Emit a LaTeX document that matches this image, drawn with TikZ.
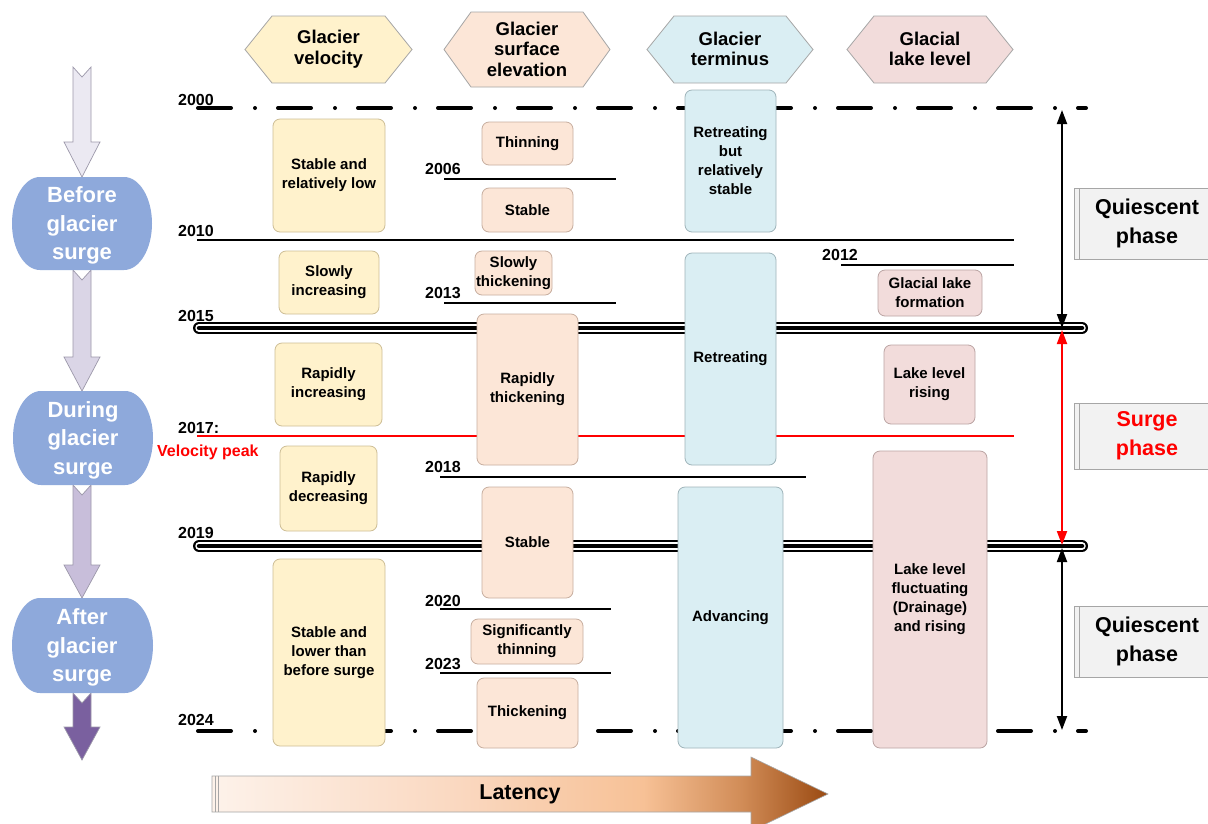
\documentclass[tikz,border=0pt]{standalone}
\usepackage{fontspec}
\setmainfont{Liberation Sans}
\usetikzlibrary{arrows.meta}
\definecolor{velF}{HTML}{FFF2CC}\definecolor{velD}{HTML}{CDBE96}
\definecolor{eleF}{HTML}{FCE6D7}\definecolor{eleD}{HTML}{C7AE9F}
\definecolor{terF}{HTML}{DAEEF3}\definecolor{terD}{HTML}{9FB4BA}
\definecolor{lakF}{HTML}{F2DCDB}\definecolor{lakD}{HTML}{BBA4A3}
\definecolor{ellF}{HTML}{8EA9DB}
\definecolor{arA}{HTML}{EBE9F2}\definecolor{arB}{HTML}{DAD5E6}
\definecolor{arC}{HTML}{C8BEDA}\definecolor{arD}{HTML}{7A609F}
\definecolor{arS}{HTML}{9C98AA}
\definecolor{phF}{HTML}{F2F2F2}\definecolor{phD}{HTML}{A6A6A6}
\definecolor{redL}{HTML}{FF0000}
\definecolor{latA}{HTML}{FDF2EA}\definecolor{latB}{HTML}{FAD8C0}
\definecolor{latC}{HTML}{F7C196}\definecolor{latE}{HTML}{D18C57}
\definecolor{latD}{HTML}{9A4A12}
\pgfdeclarehorizontalshading{latency}{100bp}{color(0bp)=(latA); color(25bp)=(latA); color(45bp)=(latB); color(60bp)=(latC); color(68bp)=(latE); color(75bp)=(latD); color(100bp)=(latD)}
\tikzset{
  cbox/.style={draw, rounded corners=7pt, line width=0.8pt, align=center, inner sep=1pt,
    font=\fontsize{15}{19}\selectfont\bfseries, text=black},
  yr/.style={anchor=base west, inner sep=0pt, font=\fontsize{16}{16}\selectfont\bfseries},
  hextext/.style={align=center, inner sep=0pt, font=\fontsize{18.5}{20.5}\selectfont\bfseries},
  elltext/.style={align=center, inner sep=0pt, text=white, font=\fontsize{22}{28.5}\selectfont\bfseries},
  phtext/.style={align=center, inner sep=0pt, font=\fontsize{21.5}{29}\selectfont\bfseries},
  yline/.style={line width=2.5pt},
  dashdotline/.style={line width=4pt, line cap=round, dash pattern=on 33pt off 24pt on 0pt off 23pt},
  varrow/.style={line width=2pt, {Triangle[width=10pt,length=14pt]}-{Triangle[width=10pt,length=14pt]}},
}
\newcommand{\bx}[7]{\node[cbox,#2,minimum width={(#5-#3)*1pt},minimum height={(#6-#4)*1pt}] (#1) at ({(#3+#5)/2},{(#4+#6)/2}) {#7};}
\newcommand{\hexa}[7]{% name, fill, draw, x1,y1,x2,y2
  \filldraw[fill=#2, draw=#3, line width=0.8pt] (#4,{(#5+#7)/2}) -- ({#4+27},#5) -- ({#6-27},#5) -- (#6,{(#5+#7)/2}) -- ({#6-27},#7) -- ({#4+27},#7) -- cycle;}
\newcommand{\blockarrow}[4]{% tail, headstart, tip, fill
  \filldraw[fill=#4, draw=arS, line width=0.7pt] (73,#1) -- (82,{#1+10}) -- (91,#1) -- (91,#2) -- (100,#2) -- (82,#3) -- (64,#2) -- (73,#2) -- cycle;}
\newcommand{\stadium}[4]{% x1,y1,x2,y2
  \fill[ellF] ({#1+28},#2) -- ({#3-28},#2) .. controls ({#3-28+15.5},#2) and (#3,{(#2+#4)/2-25.7}) .. (#3,{(#2+#4)/2})
   .. controls (#3,{(#2+#4)/2+25.7}) and ({#3-28+15.5},#4) .. ({#3-28},#4) -- ({#1+28},#4)
   .. controls ({#1+28-15.5},#4) and (#1,{(#2+#4)/2+25.7}) .. (#1,{(#2+#4)/2})
   .. controls (#1,{(#2+#4)/2-25.7}) and ({#1+28-15.5},#2) .. ({#1+28},#2) -- cycle;}
\newcommand{\dline}[1]{%
  \draw[line width=12pt, line cap=round] (199,#1) -- (1082,#1);
  \draw[line width=7.5pt, white, line cap=round] (199,#1) -- (1082,#1);
  \draw[line width=4.5pt, line cap=round] (199,#1) -- (1082,#1);}
\begin{document}
\begin{tikzpicture}[x=1pt,y=-1pt]
\useasboundingbox (0,0) rectangle (1208,823);
\fill[white] (0,0) rectangle (1208,823);

% ---- left block arrows and stage shapes
\blockarrow{67}{142}{177}{arA}
\blockarrow{270}{357}{391}{arB}
\blockarrow{485}{565}{598}{arC}
\blockarrow{693}{727}{760}{arD}
\stadium{12}{177}{152}{270}
\stadium{13}{391}{153}{485}
\stadium{12}{598}{153}{693}
\node[elltext] (before) at (82,225.5) {Before\\glacier\\surge};
\node[elltext] (during) at (83,440) {During\\glacier\\surge};
\node[elltext] (after) at (82,647.5) {After\\glacier\\surge};

% ---- headers
\hexa{h1}{velF}{phD}{245}{16}{412}{83}
\hexa{h2}{eleF}{phD}{444}{12}{610}{87}
\hexa{h3}{terF}{phD}{647}{16}{813}{83}
\hexa{h4}{lakF}{phD}{847}{16}{1013}{83}
\node[hextext] (hv) at (328.5,49) {Glacier\\velocity};
\node[hextext] (he) at (527,49) {Glacier\\surface\\elevation};
\node[hextext] (ht) at (730,49) {Glacier\\terminus};
\node[hextext] (hl) at (930,49) {Glacial\\lake level};

% ---- timeline lines
\draw[dashdotline] (198,108) -- (1086,108);
\draw[dashdotline] (198,731) -- (1086,731);
\draw[yline] (197,240) -- (1014,240);
\draw[yline, redL] (197,436) -- (1014,436);
\dline{328}
\dline{546}
\draw[yline] (444,179) -- (616,179);
\draw[yline] (841,265) -- (1014,265);
\draw[yline] (444,303) -- (616,303);
\draw[yline] (440,477) -- (806,477);
\draw[yline] (440,609) -- (611,609);
\draw[yline] (440,673) -- (611,673);

% ---- year labels
\node[yr] (y2000) at (178,105) {2000};
\node[yr] (y2010) at (178,236) {2010};
\node[yr] (y2015) at (178,321) {2015};
\node[yr] (y2017) at (178,433) {2017:};
\node[yr, text=redL] (vpeak) at (157,456) {Velocity peak};
\node[yr] (y2019) at (178,538) {2019};
\node[yr] (y2024) at (178,725) {2024};
\node[yr] (y2006) at (425,174) {2006};
\node[yr] (y2012) at (822,260) {2012};
\node[yr] (y2013) at (425,298) {2013};
\node[yr] (y2018) at (425,472) {2018};
\node[yr] (y2020) at (425,606) {2020};
\node[yr] (y2023) at (425,669) {2023};

% ---- velocity column
\bx{v1}{fill=velF,draw=velD}{273}{119}{385}{232}{Stable and\\relatively low}
\bx{v2}{fill=velF,draw=velD}{279}{251}{379}{314}{Slowly\\increasing}
\bx{v3}{fill=velF,draw=velD}{275}{343}{382}{426}{Rapidly\\increasing}
\bx{v4}{fill=velF,draw=velD}{280}{446}{377}{531}{Rapidly\\decreasing}
\bx{v5}{fill=velF,draw=velD}{273}{559}{385}{746}{Stable and\\lower than\\before surge}
% ---- elevation column
\bx{e1}{fill=eleF,draw=eleD}{482}{122}{573}{165}{Thinning}
\bx{e2}{fill=eleF,draw=eleD}{482}{188}{573}{232}{Stable}
\bx{e3}{fill=eleF,draw=eleD}{477}{251}{550}{295}{Slowly\\thickening}
\bx{e4}{fill=eleF,draw=eleD}{477}{314}{578}{465}{Rapidly\\thickening}
\bx{e5}{fill=eleF,draw=eleD}{482}{487}{573}{598}{Stable}
\bx{e6}{fill=eleF,draw=eleD}{471}{619}{583}{664}{Significantly\\thinning}
\bx{e7}{fill=eleF,draw=eleD}{477}{678}{578}{748}{Thickening}
% ---- terminus column
\bx{t1}{fill=terF,draw=terD}{685}{90}{776}{232}{Retreating\\but\\relatively\\stable}
\bx{t2}{fill=terF,draw=terD}{685}{253}{776}{465}{Retreating}
\bx{t3}{fill=terF,draw=terD}{678}{487}{783}{748}{Advancing}
% ---- lake column
\bx{l1}{fill=lakF,draw=lakD}{878}{270}{982}{316}{Glacial lake\\formation}
\bx{l2}{fill=lakF,draw=lakD}{884}{345}{975}{424}{Lake level\\rising}
\bx{l3}{fill=lakF,draw=lakD}{873}{451}{987}{748}{Lake level\\fluctuating\\(Drainage)\\and rising}

% ---- phase arrows
\coordinate (pa) at (1062,110);
\coordinate (pb) at (1062,328);
\coordinate (pc) at (1062,330);
\coordinate (pd) at (1062,545);
\coordinate (pe) at (1062,548);
\coordinate (pf) at (1062,730);
\draw[varrow] (pa) -- (pb);
\draw[varrow, redL] (pc) -- (pd);
\draw[varrow] (pe) -- (pf);

% ---- phase boxes
\foreach \n/\ya/\yb in {q1/188/259, s1/403/469, q2/606/677}{
  \filldraw[fill=phF, draw=phD, line width=0.8pt] (1074,\ya) rectangle (1215,\yb);
  \draw[phD, line width=0.6pt] (1079,\ya) -- (1079,\yb);
}
\node[phtext] (q1) at (1147,223.5) {Quiescent\\phase};
\node[phtext, text=redL] (s1) at (1147,436) {Surge\\phase};
\node[phtext] (q2) at (1147,641.5) {Quiescent\\phase};

% ---- latency arrow
\shade[shading=latency, draw=phD, line width=0.6pt] (212,776) -- (751,776) -- (751,757) -- (828,794) -- (751,831) -- (751,812) -- (212,812) -- cycle;
\draw[phD, line width=0.6pt] (215,776) -- (215,812) (218,776) -- (218,812);
\node[font=\fontsize{21.5}{24}\selectfont\bfseries, inner sep=0pt] (lat) at (520,794) {Latency};
\end{tikzpicture}
\end{document}
